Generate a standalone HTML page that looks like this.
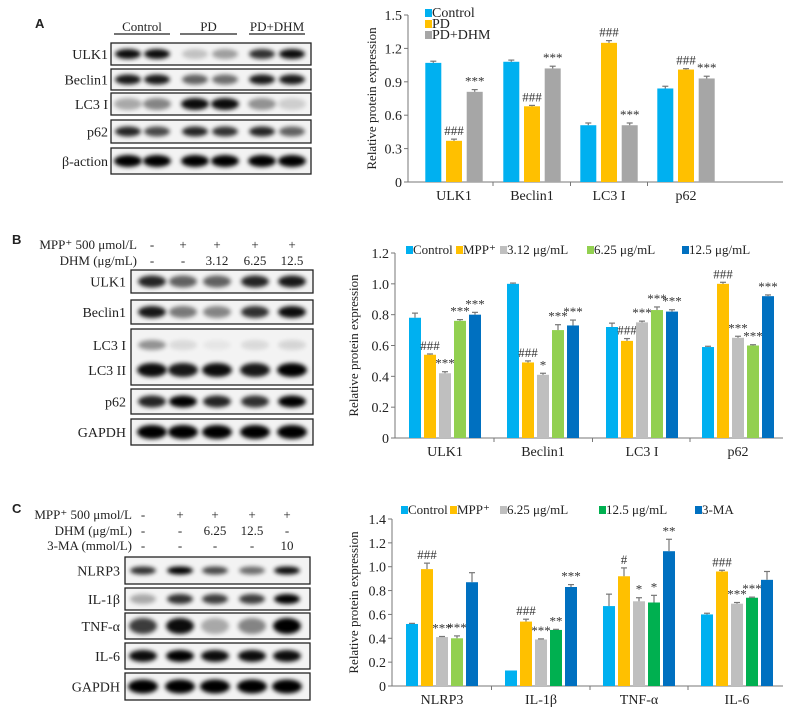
<!DOCTYPE html>
<html><head><meta charset="utf-8">
<style>
body{margin:0;background:#fff;}
svg{display:block;font-family:"Liberation Serif",serif;}
</style></head>
<body>
<svg id="fig" width="796" height="716" viewBox="0 0 796 716" xmlns="http://www.w3.org/2000/svg">
<defs>
<filter id="blur" x="-30%" y="-80%" width="160%" height="260%"><feGaussianBlur stdDeviation="2.2"/></filter>
</defs>
<g id="blots"></g>
<g id="charts"></g>
</svg>
<script>
// ---------- Chart A data ----------
const catsA = ["ULK1","Beclin1","LC3 I","p62"];
const seriesNamesA = ["Control","PD","PD+DHM"];
const ctrlA = [1.07,1.08,0.51,0.84];
const pdA = [0.37,0.68,1.25,1.01];
const dhmA = [0.81,1.02,0.51,0.93];
const ctrlErrA = [0.015,0.015,0.02,0.02];
const pdErrA = [0.015,0.008,0.02,0.008];
const dhmErrA = [0.02,0.02,0.02,0.02];
const pdSigA = ["###","###","###","###"];
const dhmSigA = ["***","***","***","***"];
const ticksA = [0,0.3,0.6,0.9,1.2,1.5];
const tickLabelsA = ["0","0.3","0.6","0.9","1.2","1.5"];

// ---------- Chart B data ----------
const catsB = ["ULK1","Beclin1","LC3 I","p62"];
const seriesNamesB = ["Control","MPP⁺","3.12 μg/mL","6.25 μg/mL","12.5 μg/mL"];
const ctrlB = [0.78,1.0,0.72,0.59];
const mppB = [0.54,0.49,0.63,1.0];
const d312B = [0.42,0.41,0.75,0.65];
const d625B = [0.76,0.70,0.83,0.60];
const d125B = [0.80,0.73,0.82,0.92];
const ctrlErrB = [0.03,0.005,0.025,0.005];
const mppErrB = [0.005,0.01,0.015,0.01];
const d312ErrB = [0.01,0.01,0.008,0.01];
const d625ErrB = [0.008,0.035,0.02,0.005];
const d125ErrB = [0.015,0.035,0.012,0.008];
const mppSigB = ["###","###","###","###"];
const d312SigB = ["***","*","***","***"];
const d625SigB = ["***","***","***","***"];
const d125SigB = ["***","***","***","***"];
const ticksB = [0,0.2,0.4,0.6,0.8,1.0,1.2];
const tickLabelsB = ["0","0.2","0.4","0.6","0.8","1.0","1.2"];

// ---------- Chart C data ----------
const catsC = ["NLRP3","IL-1β","TNF-α","IL-6"];
const seriesNamesC = ["Control","MPP⁺","6.25 μg/mL","12.5 μg/mL","3-MA"];
const ctrlC = [0.52,0.13,0.67,0.60];
const mppC = [0.98,0.54,0.92,0.96];
const d625C = [0.41,0.39,0.71,0.69];
const d125C = [0.40,0.47,0.70,0.74];
const maC = [0.87,0.83,1.13,0.89];
const ctrlErrC = [0.005,0,0.1,0.01];
const mppErrC = [0.05,0.02,0.07,0.01];
const d625ErrC = [0.005,0.005,0.03,0.01];
const d125ErrC = [0.02,0.005,0.06,0.005];
const maErrC = [0.08,0.02,0.1,0.07];
const mppSigC = ["###","###","#","###"];
const d625SigC = ["***","***","*","***"];
const d125SigC = ["***","**","*","***"];
const maSigC = ["","***","**",""];
const ticksC = [0,0.2,0.4,0.6,0.8,1.0,1.2,1.4];
const tickLabelsC = ["0","0.2","0.4","0.6","0.8","1.0","1.2","1.4"];

const NS = "http://www.w3.org/2000/svg";
function mk(tag, attrs, parent){
  const e = document.createElementNS(NS, tag);
  for (const k in attrs) e.setAttribute(k, attrs[k]);
  parent.appendChild(e);
  return e;
}
function txt(parent, x, y, s, size, anchor, extra){
  const t = mk("text", Object.assign({x:x, y:y, "font-size":size, "text-anchor":anchor||"start", fill:"#222"}, extra||{}), parent);
  t.textContent = s;
  return t;
}

const C_CYAN="#00b0f0", C_YEL="#ffc000", C_GRAY="#a6a6a6", C_LGRAY="#bfbfbf", C_LGRN="#92d050", C_BLUE="#0070c0", C_GRN="#00b050";

function barChart(cfg){
  const g = mk("g", {}, document.getElementById("charts"));
  
  
  const y = v => cfg.y0 - (v / cfg.ymax) * (cfg.y0 - cfg.yTop);
  const ax = mk("line", {x1:cfg.x0, y1:y(cfg.ymax), x2:cfg.x0, y2:cfg.y0, stroke:"#777", "stroke-width":1}, g);
  
  
  const xa = mk("line", {x1:cfg.x0, y1:cfg.y0, x2:cfg.xEnd, y2:cfg.y0, stroke:"#777", "stroke-width":1}, g);
  
  
  cfg.ticks.forEach((t,i)=>{
    mk("line", {x1:cfg.x0-4, y1:y(t), x2:cfg.x0, y2:y(t), stroke:"#777"}, g);
    const tl = txt(g, cfg.x0-6, y(t)+5, cfg.tickLabels[i], 14, "end");
    
    
  });
  const ylab = txt(g, 0, 0, "Relative protein expression", 13, "middle", {transform:`translate(${cfg.ylabX},${(cfg.yTop+cfg.y0)/2}) rotate(-90)`});
  
  
  const n = cfg.series.length;
  cfg.cats.forEach((c,ci)=>{
    const cx = cfg.centers[ci];
    if (ci < cfg.cats.length-1){
      const mx = (cfg.centers[ci]+cfg.centers[ci+1])/2;
      mk("line", {x1:mx, y1:cfg.y0, x2:mx, y2:cfg.y0+4, stroke:"#777"}, g);
    }
    const cl = txt(g, cx, cfg.y0+18, c, 14, "middle");
    
    
    cfg.series.forEach((s,si)=>{
      const v = s.vals[ci];
      const bx = cx + (si - (n-1)/2) * cfg.spacing - cfg.bw/2;
      const r = mk("rect", {x:bx, y:y(v), width:cfg.bw, height:cfg.y0 - y(v), fill:(s.colors?s.colors[ci]:s.color)}, g);
      
      
      const e = s.err[ci];
      const top = y(v+e);
      if (e > 0){
        mk("line", {x1:bx+cfg.bw/2, y1:y(v), x2:bx+cfg.bw/2, y2:top, stroke:"#777", "stroke-width":1.2}, g);
        mk("line", {x1:bx+cfg.bw/2-3, y1:top, x2:bx+cfg.bw/2+3, y2:top, stroke:"#777", "stroke-width":1.2}, g);
      }
      if (s.sig && s.sig[ci]){
        const st = txt(g, bx+cfg.bw/2, top-4, s.sig[ci], 13, "middle", {fill:"#333"});
        
        
      }
    });
  });
  cfg.series.forEach((s,si)=>{
    const lx = cfg.legend[si][0], ly = cfg.legend[si][1];
    const sw = mk("rect", {x:lx, y:ly-8, width:7, height:8, fill:s.color}, g);
    
    
    const lt = txt(g, lx+7, ly, s.label, cfg.legendSize||13, "start");
    
    
  });
}

barChart({name:"chart-a", x0:408, xEnd:783, y0:182, yTop:15, ymax:1.5, ylabX:376, legendSize:14,
  ticks:ticksA, tickLabels:tickLabelsA, cats:catsA, centers:[454,532,609,686], bw:16, spacing:20.7,
  series:[
    {key:"control", label:seriesNamesA[0], color:C_CYAN, vals:ctrlA, err:ctrlErrA},
    {key:"pd", label:seriesNamesA[1], color:C_YEL, vals:pdA, err:pdErrA, sig:pdSigA},
    {key:"pd-dhm", label:seriesNamesA[2], color:C_GRAY, vals:dhmA, err:dhmErrA, sig:dhmSigA}],
  legend:[[425,17],[425,28],[425,39]]});

barChart({name:"chart-b", x0:395, xEnd:783, y0:438, yTop:253, ymax:1.2, ylabX:358,
  ticks:ticksB, tickLabels:tickLabelsB, cats:catsB, centers:[445,543,642,738], bw:12, spacing:15,
  series:[
    {key:"control", label:seriesNamesB[0], color:C_CYAN, vals:ctrlB, err:ctrlErrB},
    {key:"mpp", label:seriesNamesB[1], color:C_YEL, vals:mppB, err:mppErrB, sig:mppSigB},
    {key:"dhm-3-12", label:seriesNamesB[2], color:C_LGRAY, vals:d312B, err:d312ErrB, sig:d312SigB},
    {key:"dhm-6-25", label:seriesNamesB[3], color:C_LGRN, vals:d625B, err:d625ErrB, sig:d625SigB},
    {key:"dhm-12-5", label:seriesNamesB[4], color:C_BLUE, vals:d125B, err:d125ErrB, sig:d125SigB}],
  legend:[[406,254],[456,254],[500,254],[587,254],[682,254]]});

barChart({name:"chart-c", x0:392, xEnd:783, y0:686, yTop:519, ymax:1.4, ylabX:358,
  ticks:ticksC, tickLabels:tickLabelsC, cats:catsC, centers:[442,541,639,737], bw:12, spacing:15,
  series:[
    {key:"control", label:seriesNamesC[0], color:C_CYAN, vals:ctrlC, err:ctrlErrC},
    {key:"mpp", label:seriesNamesC[1], color:C_YEL, vals:mppC, err:mppErrC, sig:mppSigC},
    {key:"dhm-6-25", label:seriesNamesC[2], color:C_LGRAY, vals:d625C, err:d625ErrC, sig:d625SigC},
    {key:"dhm-12-5", label:seriesNamesC[3], color:C_GRN, colors:[C_LGRN,C_GRN,C_GRN,C_GRN], vals:d125C, err:d125ErrC, sig:d125SigC},
    {key:"3-ma", label:seriesNamesC[4], color:C_BLUE, vals:maC, err:maErrC, sig:maSigC}],
  legend:[[401,514],[450,514],[500,514],[599,514],[695,514]]});

// ---------- Western blots ----------
const B = document.getElementById("blots");
function panelLabel(s,x,y){
  const t = txt(B, x, y, s, 13, "start", {"font-family":"Liberation Sans, sans-serif","font-weight":"bold"});
  
  
}
function blotRow(name, x1, x2, y1, y2, lanes, dark, bandW, bandH, labelX){
  const g = mk("g", {}, B);
  
  
  mk("rect", {x:x1, y:y1, width:x2-x1, height:y2-y1, fill:"#f3f3f3", stroke:"#222", "stroke-width":1.3}, g);
  const cy = (y1+y2)/2;
  lanes.forEach((lx,i)=>{
    mk("ellipse", {cx:lx, cy:cy, rx:bandW, ry:bandH, fill:"#000", opacity:dark[i], filter:"url(#blur)"}, g);
  });
  const lt = txt(B, labelX, cy+5, name, 14, "end");
  
  
}
panelLabel("A", 35, 28);
const lanesA = [128,157,195,225,262,292];
[["Control",114,170],["PD",180,237],["PD+DHM",249,305]].forEach(h=>{
  const t = txt(B, (h[1]+h[2])/2, 31, h[0], 13, "middle");
  
  
  mk("line", {x1:h[1], y1:34, x2:h[2], y2:34, stroke:"#222", "stroke-width":1.2}, B);
});
blotRow("ULK1",111,311,43,65,lanesA,[0.95,0.95,0.2,0.35,0.8,0.95],13,5,108);
blotRow("Beclin1",111,311,69,90,lanesA,[0.9,0.9,0.6,0.55,0.9,0.9],13,5,108);
blotRow("LC3 I",111,311,93,115,lanesA,[0.3,0.45,0.95,0.95,0.4,0.15],14,6,108);
blotRow("p62",111,311,120,143,lanesA,[0.85,0.7,0.85,0.8,0.85,0.6],13,5,108);
blotRow("β-action",111,311,148,174,lanesA,[1,1,1,1,1,1],14,6,108);

panelLabel("B", 12, 244);
const lanesB = [152,183,217,255,292];
function headerRow(label, labelX, yy, vals, lanes){
  const t = txt(B, labelX, yy, label, 13, "end");
  
  
  vals.forEach((v,i)=>{ txt(B, lanes[i], yy, v, 13, "middle"); });
}
headerRow("MPP⁺ 500 μmol/L", 137, 249, ["-","+","+","+","+"], lanesB);
headerRow("DHM (μg/mL)", 137, 265, ["-","-","3.12","6.25","12.5"], lanesB);
blotRow("ULK1",131,313,270,293,lanesB,[0.85,0.6,0.6,0.85,0.9],14,6,126);
blotRow("Beclin1",131,313,300,324,lanesB,[0.9,0.5,0.45,0.8,0.95],14,6,126);
blotRow("p62",131,313,389,414,lanesB,[0.85,1,0.85,0.8,1],14,6,126);
blotRow("GAPDH",131,313,419,445,lanesB,[1,1,1,1,1],15,7,126);
(function(){
  const g = mk("g", {}, B);
  
  
  mk("rect", {x:131, y:329, width:182, height:56, fill:"#f3f3f3", stroke:"#222", "stroke-width":1.3}, g);
  const d1=[0.4,0.1,0.05,0.1,0.12], d2=[0.95,0.9,0.95,0.9,1];
  lanesB.forEach((lx,i)=>{
    mk("ellipse", {cx:lx, cy:345, rx:14, ry:5, fill:"#000", opacity:d1[i], filter:"url(#blur)"}, g);
    mk("ellipse", {cx:lx, cy:370, rx:15, ry:7, fill:"#000", opacity:d2[i], filter:"url(#blur)"}, g);
  });
  txt(B,126,350,"LC3 I",14,"end");
  txt(B,126,375,"LC3 II",14,"end");
})();

panelLabel("C", 12, 513);
const lanesC = [143,180,215,252,287];
headerRow("MPP⁺ 500 μmol/L", 132, 519, ["-","+","+","+","+"], lanesC);
headerRow("DHM (μg/mL)", 132, 535, ["-","-","6.25","12.5","-"], lanesC);
headerRow("3-MA (mmol/L)", 132, 550, ["-","-","-","-","10"], lanesC);
blotRow("NLRP3",125,310,557,584,lanesC,[0.8,1,0.7,0.55,0.95],13,4,120);
blotRow("IL-1β",125,310,588,610,lanesC,[0.3,0.8,0.75,0.75,1],13,5,120);
blotRow("TNF-α",125,310,613,639,lanesC,[0.75,0.95,0.3,0.45,1],14,8,120);
blotRow("IL-6",125,310,643,669,lanesC,[0.95,1,0.95,0.95,0.95],14,6,120);
blotRow("GAPDH",125,310,673,700,lanesC,[1,1,1,1,1],15,7,120);
</script>
</body></html>
